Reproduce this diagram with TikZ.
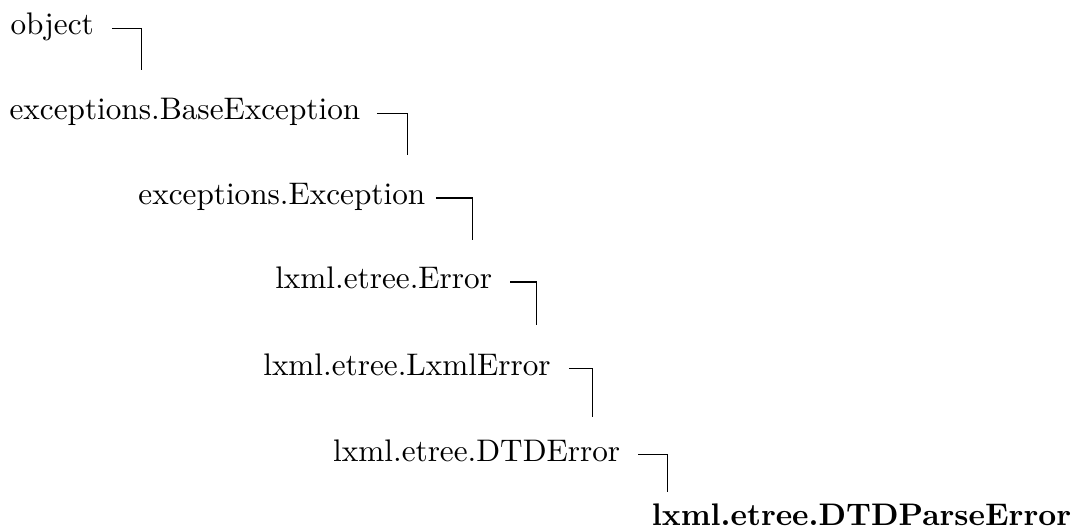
\documentclass[tikz,border=0pt]{standalone}
\usetikzlibrary{positioning}

\begin{document}
\begin{tikzpicture}[x=0.32pt,y=-0.32pt]
            \begin{scope}[cls/.style={inner sep=0pt, anchor=base west}]
                \node(object) at (10,35) [cls]{object};
                \node(baseexc) at (9,120) [cls]{exceptions.BaseException};
                \node(exc) at (138,205) [cls]{exceptions.Exception};
                \node(error) at (275,289) [cls]{lxml.etree.Error};
                \node(lxmlerror) at (263,376) [cls]{lxml.etree.LxmlError};
                \node(dtderror) at (333,462) [cls]{lxml.etree.DTDError};
                \node(dtdparse) at (652,526) [cls, font=\bfseries]{lxml.etree.DTDParseError};
            \end{scope}
            \useasboundingbox (0,0) rectangle (1071,529);
            %%%
            \coordinate (c1) at (142,70);
            \coordinate (c2) at (408,155);
            \coordinate (c3) at (473,240);
            \coordinate (c4) at (537,325);
            \coordinate (c5) at (593,417);
            \coordinate (c6) at (668,493);
            %
            \draw ([xshift=5.6pt]object.mid east) -| (c1);
            \draw ([xshift=5.1pt]baseexc.mid east) -| (c2);
            \draw ([xshift=3.2pt]exc.mid east) -| (c3);
            \draw ([xshift=5.6pt]error.mid east) -| (c4);
            \draw ([xshift=5.6pt]lxmlerror.mid east) -| (c5);
            \draw ([xshift=5.6pt]dtderror.mid east) -| (c6);
        \end{tikzpicture}
\end{document}
